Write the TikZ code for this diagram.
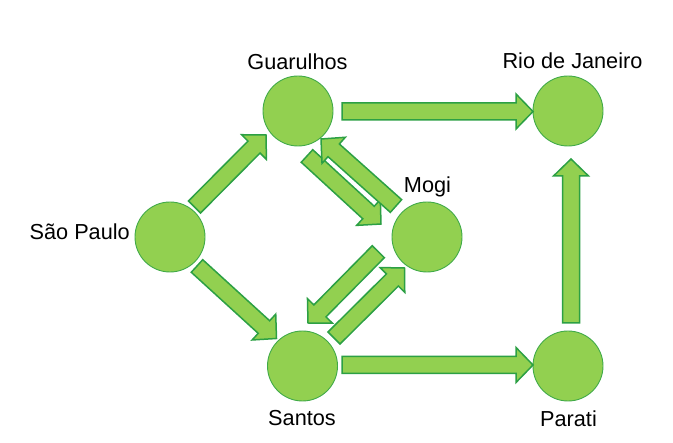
\documentclass[tikz,border=0pt]{standalone}
\usepackage{fontspec}
\setmainfont{Liberation Sans}
\usetikzlibrary{calc}
\definecolor{lgreen}{HTML}{92D050}
\definecolor{dgreen}{RGB}{44,160,68}
\definecolor{cgreen}{RGB}{64,170,72}
\tikzset{
  city/.style={circle, minimum size=70pt, inner sep=0pt, fill=lgreen, draw=cgreen, line width=0.9pt},
  lbl/.style={font=\fontsize{21.7}{26}\selectfont, inner sep=0pt, anchor=base},
  blockarrow/.style={fill=lgreen, draw=dgreen, line width=1.5pt, line join=miter},
}
\newcommand\blkarrow[2]{%
  \coordinate (H) at ($(#2)!17pt!(#1)$);
  \path[blockarrow] ($(#1)!8.5pt!90:(#2)$) -- ($(H)!8.5pt!90:(#2)$) -- ($(H)!17.5pt!90:(#2)$)
     -- (#2) -- ($(H)!17.5pt!-90:(#2)$) -- ($(H)!8.5pt!-90:(#2)$) -- ($(#1)!8.5pt!-90:(#2)$) -- cycle;
}
\begin{document}
\begin{tikzpicture}[x=1pt, y=-1pt]
\useasboundingbox (0,0) rectangle (673,443);
% cities
\node[city] (sp) at (170,237) {};
\node[city] (gu) at (298,111) {};
\node[city] (mo) at (427,237) {};
\node[city] (sa) at (302.5,366) {};
\node[city] (rj) at (568,111) {};
\node[city] (pa) at (568,366) {};
% labels
\node[lbl, anchor=base east] (lsp) at (130,239.5) {São Paulo};
\node[lbl] (lgu) at (297.5,70) {Guarulhos};
\node[lbl] (lmo) at (427.5,192.5) {Mogi};
\node[lbl] (lsa) at (302,426) {Santos};
\node[lbl] (lrj) at (572.5,69) {Rio de Janeiro};
\node[lbl] (lpa) at (568.5,426.5) {Parati};
% arrow end points
\coordinate (spgu0) at (194.5,207);   \coordinate (spgu1) at (266,135);
\coordinate (spsa0) at (197,266);     \coordinate (spsa1) at (276.5,338.5);
\coordinate (gumo0) at (307,156);     \coordinate (gumo1) at (381,224);
\coordinate (mogu0) at (396,206);     \coordinate (mogu1) at (321,139);
\coordinate (mosa0) at (378.3,251.7); \coordinate (mosa1) at (308,323);
\coordinate (samo0) at (334,338);     \coordinate (samo1) at (404.5,268);
\coordinate (gurj0) at (342,111.5);   \coordinate (gurj1) at (533,111.5);
\coordinate (sapa0) at (342,365);     \coordinate (sapa1) at (533,365);
\coordinate (parj0) at (571,323);     \coordinate (parj1) at (571,159);
% block arrows
\blkarrow{spgu0}{spgu1}
\blkarrow{spsa0}{spsa1}
\blkarrow{gumo0}{gumo1}
\blkarrow{mogu0}{mogu1}
\blkarrow{mosa0}{mosa1}
\blkarrow{samo0}{samo1}
\blkarrow{gurj0}{gurj1}
\blkarrow{sapa0}{sapa1}
\blkarrow{parj0}{parj1}
\end{tikzpicture}
\end{document}
